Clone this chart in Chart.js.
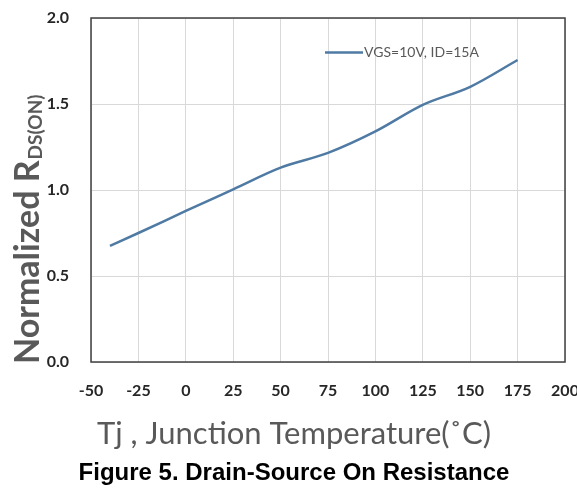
<!DOCTYPE html>
<html>
<head>
<meta charset="utf-8">
<script src="https://cdn.jsdelivr.net/npm/chart.js@4/dist/chart.umd.min.js"></script>
<style>
  html, body { margin: 0; padding: 0; background: #ffffff; }
  #wrap { width: 577px; height: 492px; }
</style>
</head>
<body>
<div id="wrap"><canvas id="c" width="577" height="492"></canvas></div>
<script>
// Junction temperature (°C) and normalized on-resistance
const tempC = [-40, -25, 0, 25, 50, 75, 100, 125, 150, 175];
const rdsNorm = [0.675, 0.75, 0.878, 1.004, 1.13, 1.216, 1.341, 1.495, 1.60, 1.756];
const seriesLabel = 'VGS=10V, ID=15A';

const xTicks = [-50, -25, 0, 25, 50, 75, 100, 125, 150, 175, 200];
const yTicks = [0.0, 0.5, 1.0, 1.5, 2.0];

const yTitleMain = 'Normalized R';
const yTitleSub = 'DS(ON)';
const xTitle = 'Tj , Junction Temperature(\u02DAC)';
const caption = 'Figure 5. Drain-Source On Resistance';

const GRID = '#d9d9d9';
const FRAME = '#404040';
const TITLE_GRAY = '#595959';
const TICK_COLOR = '#262626';
const LINE = '#4f7aa3';

// Box around the plot area
const frameBox = {
  id: 'frameBox',
  afterDatasetsDraw(chart) {
    const a = chart.chartArea, ctx = chart.ctx;
    ctx.save();
    ctx.strokeStyle = FRAME;
    ctx.lineWidth = 1.5;
    ctx.strokeRect(a.left, a.top, a.right - a.left, a.bottom - a.top);
    ctx.restore();
  }
};

// Legend entry inside the plot, upper right
const innerLegend = {
  id: 'innerLegend',
  afterDraw(chart) {
    const ds = chart.data.datasets[0];
    const ctx = chart.ctx;
    const y = 52.5;
    ctx.save();
    ctx.strokeStyle = ds.borderColor;
    ctx.lineWidth = 2.5;
    ctx.beginPath();
    ctx.moveTo(325, y);
    ctx.lineTo(363, y);
    ctx.stroke();
    ctx.fillStyle = TITLE_GRAY;
    ctx.font = '14px Lato';
    ctx.textBaseline = 'middle';
    ctx.textAlign = 'left';
    ctx.fillText(ds.label, 364, y);
    ctx.restore();
  }
};

// Rotated y-axis title with subscript
const yTitle = {
  id: 'yTitle',
  afterDraw(chart) {
    const ctx = chart.ctx;
    ctx.save();
    ctx.translate(39, 364);
    ctx.rotate(-Math.PI / 2);
    ctx.fillStyle = TITLE_GRAY;
    ctx.textBaseline = 'alphabetic';
    ctx.textAlign = 'left';
    ctx.font = 'bold 34px Lato';
    ctx.fillText(yTitleMain, 0, 0);
    const w = ctx.measureText(yTitleMain).width;
    ctx.font = 'bold 19px Lato';
    ctx.fillText(yTitleSub, w + 1, 3);
    ctx.restore();
  }
};

// Tick labels may overhang the plot edges; let layout padding decide the plot box
function clearOverhang(scale) {
  scale.paddingLeft = 0;
  scale.paddingRight = 0;
  scale.paddingTop = 0;
  scale.paddingBottom = 0;
}

new Chart(document.getElementById('c'), {
  type: 'line',
  data: {
    datasets: [{
      label: seriesLabel,
      data: tempC.map((t, i) => ({ x: t, y: rdsNorm[i] })),
      borderColor: LINE,
      backgroundColor: LINE,
      borderWidth: 2.5,
      pointRadius: 0,
      cubicInterpolationMode: 'monotone',
      fill: false
    }]
  },
  options: {
    responsive: false,
    animation: false,
    devicePixelRatio: 1,
    layout: { padding: { left: 23, right: 12, top: 18, bottom: 0 } },
    plugins: {
      legend: { display: false },
      tooltip: { enabled: false },
      subtitle: {
        display: true,
        position: 'bottom',
        text: xTitle,
        color: TITLE_GRAY,
        font: { family: 'Lato', size: 31, weight: 'normal', lineHeight: 1.2 },
        padding: { top: 1, bottom: 5 }
      },
      title: {
        display: true,
        position: 'bottom',
        text: caption,
        color: '#000000',
        font: { family: '"Liberation Sans", Arial, sans-serif', size: 24, weight: 'bold', lineHeight: 1.2 },
        padding: { top: 2, bottom: 4 }
      }
    },
    scales: {
      x: {
        type: 'linear',
        min: xTicks[0],
        max: xTicks[xTicks.length - 1],
        afterBuildTicks(scale) { scale.ticks = xTicks.map(v => ({ value: v })); },
        afterFit(scale) { scale.height = 52; clearOverhang(scale); },
        grid: { color: GRID, lineWidth: 1, drawTicks: false },
        border: { display: false },
        ticks: {
          padding: 19,
          maxRotation: 0,
          color: TICK_COLOR,
          font: { family: 'Lato', size: 16, weight: 'bold' },
          callback: v => String(v)
        }
      },
      y: {
        type: 'linear',
        min: yTicks[0],
        max: yTicks[yTicks.length - 1],
        afterBuildTicks(scale) { scale.ticks = yTicks.map(v => ({ value: v })); },
        afterFit(scale) { scale.width = 68; clearOverhang(scale); },
        grid: { color: GRID, lineWidth: 1, drawTicks: false },
        border: { display: false },
        ticks: {
          padding: 22,
          color: TICK_COLOR,
          font: { family: 'Lato', size: 16, weight: 'bold' },
          callback: v => Number(v).toFixed(1)
        }
      }
    }
  },
  plugins: [frameBox, innerLegend, yTitle]
});
</script>
</body>
</html>
